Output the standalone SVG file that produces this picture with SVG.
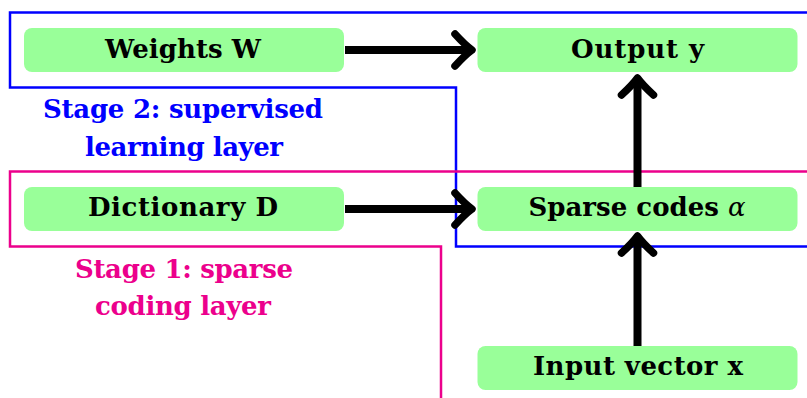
<svg xmlns="http://www.w3.org/2000/svg" width="807" height="398" viewBox="0 0 807 398">
<style>
.node rect{fill:#99ff99;}
text{font-family:"DejaVu Serif","Liberation Serif",serif;font-weight:bold;}
.node text{font-size:26px;fill:#000;text-anchor:middle;}
.lbl{font-size:26px;text-anchor:middle;}
.frame{fill:none;stroke-width:2.5;}
.conn{stroke:#000;stroke-width:8;fill:none;}
</style>
<defs>
<marker id="arr" markerUnits="userSpaceOnUse" markerWidth="40" markerHeight="44" refX="0" refY="0" viewBox="-24 -22 30 44" orient="auto" overflow="visible">
<path d="M-17,-16 Q-7,-5 0,0 Q-7,5 -17,16" fill="none" stroke="#000" stroke-width="7.5" stroke-linecap="round" stroke-linejoin="round"/>
</marker>
</defs>
<g id="frames">
<path class="frame" stroke="#0000ff" d="M808,12.5 H10 V87.5 H456 V246.5 H808"/>
<path class="frame" stroke="#ec008c" d="M808,171.5 H10 V246.5 H441 V400"/>
</g>
<g id="labels">
<text class="lbl" fill="#0000ff" x="183" y="118" textLength="280">Stage 2: supervised</text>
<text class="lbl" fill="#0000ff" x="184" y="156" textLength="198">learning layer</text>
<text class="lbl" fill="#ec008c" x="184" y="278" textLength="218">Stage 1: sparse</text>
<text class="lbl" fill="#ec008c" x="183" y="315" textLength="176">coding layer</text>
</g>
<g id="connectors">
<line class="conn" x1="345" y1="50" x2="472" y2="50" marker-end="url(#arr)"/>
<line class="conn" x1="345" y1="209" x2="472" y2="209" marker-end="url(#arr)"/>
<line class="conn" x1="637.5" y1="187" x2="637.5" y2="78" marker-end="url(#arr)"/>
<line class="conn" x1="637.5" y1="346" x2="637.5" y2="236" marker-end="url(#arr)"/>
</g>
<g id="weights" class="node"><rect x="24" y="28" width="320" height="44" rx="8"/><text x="183" y="58" textLength="156">Weights W</text></g>
<g id="output" class="node"><rect x="477.5" y="28" width="320" height="44" rx="8"/><text x="637.5" y="58" textLength="133">Output y</text></g>
<g id="dictionary" class="node"><rect x="24" y="187" width="320" height="44" rx="8"/><text x="183" y="216" textLength="190">Dictionary D</text></g>
<g id="sparse" class="node"><rect x="477.5" y="187" width="320" height="44" rx="8"/><text x="637" y="216" textLength="217">Sparse codes <tspan font-style="italic" font-weight="normal">α</tspan></text></g>
<g id="input" class="node"><rect x="477.5" y="346" width="320" height="44" rx="8"/><text x="638" y="375" textLength="210">Input vector x</text></g>
</svg>
